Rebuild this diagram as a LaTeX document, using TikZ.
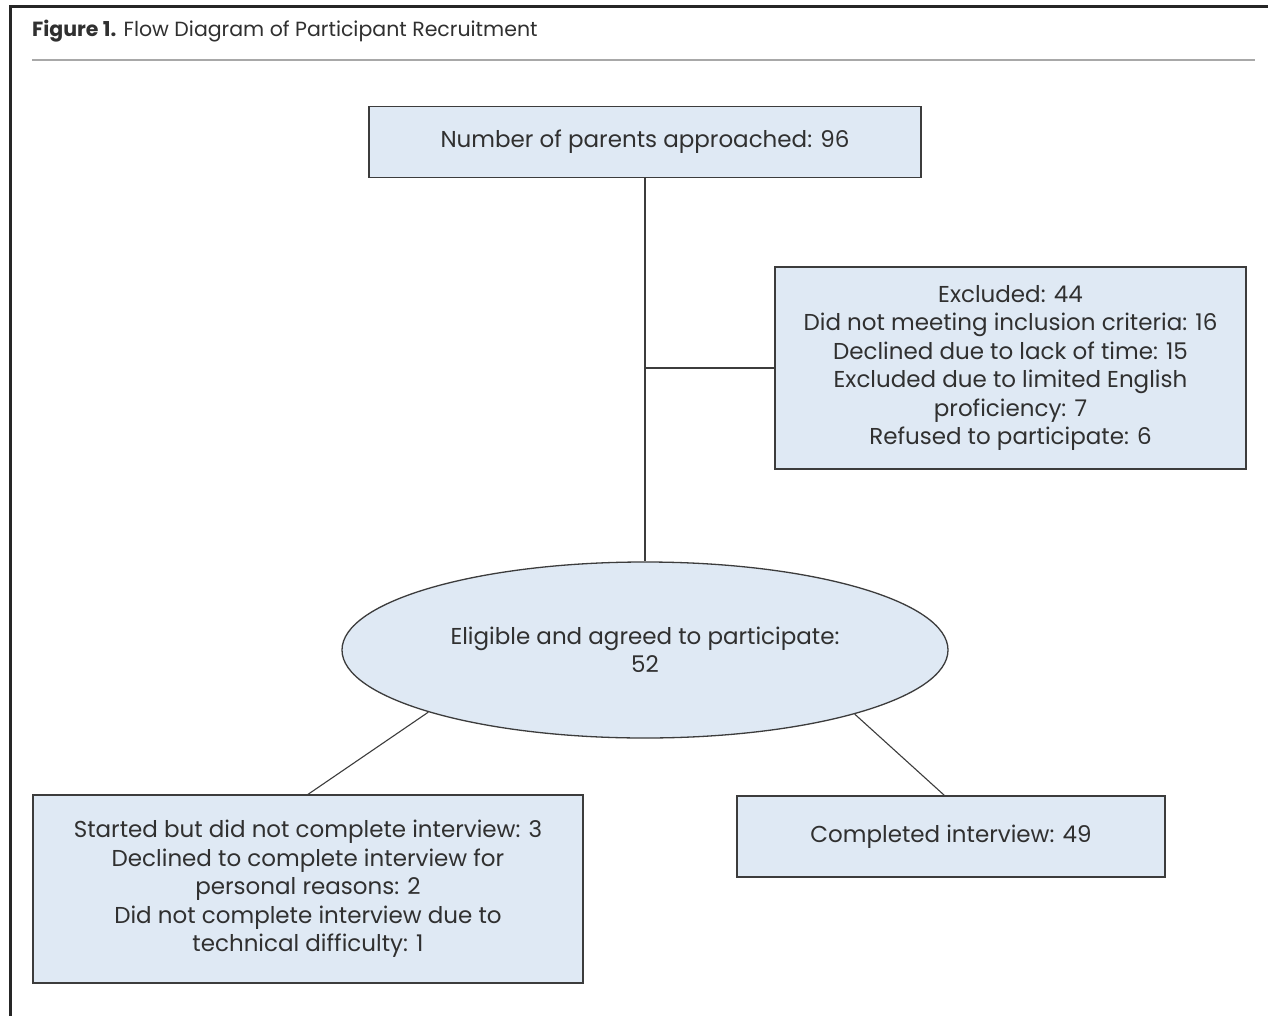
\documentclass[tikz,border=0pt]{standalone}
\usepackage{fontspec}
\setmainfont{Poppins}
\usetikzlibrary{shapes.geometric,calc}
\definecolor{boxfill}{HTML}{DFE9F4}
\definecolor{boxdraw}{HTML}{3C3C3C}
\definecolor{txt}{HTML}{303030}
\definecolor{rulegray}{HTML}{A8A8A8}
\tikzset{
  fbox/.style={draw=boxdraw, line width=1.3pt, fill=boxfill, text=txt, align=center,
    inner sep=0pt, font=\fontsize{23}{28.5}\selectfont},
  fell/.style={fbox, ellipse},
  conn/.style={draw=boxdraw, line width=1.1pt},
}
\begin{document}
\begin{tikzpicture}[x=1pt,y=-1pt]
\useasboundingbox (0,0) rectangle (1268,1016);
\fill[white] (0,0) rectangle (1268,1016);
% frame
\draw[line width=3pt, black!85] (1268,7) -- (10,7) -- (10,1016);
\node[anchor=base west, inner sep=0pt, text=txt, font=\fontsize{20.5}{24}\selectfont] (title) at (32,37)
  {\textbf{Figure 1.} Flow Diagram of Participant Recruitment};
\draw[line width=2.2pt, rulegray] (32,60) -- (1255,60);
% nodes
\node[fbox, minimum width=552pt, minimum height=71pt] (b1) at (645,142) {Number of parents approached: 96};
\node[fbox, minimum width=471pt, minimum height=202pt] (b2) at (1010.5,368)
  {Excluded: 44\\Did not meeting inclusion criteria: 16\\Declined due to lack of time: 15\\Excluded due to limited English\\proficiency: 7\\Refused to participate: 6};
\node[fell, minimum width=606pt, minimum height=176pt] (ell) at (645,650)
  {Eligible and agreed to participate:\\52};
\node[fbox, minimum width=550pt, minimum height=188pt] (b3) at (308,889)
  {Started but did not complete interview: 3\\Declined to complete interview for\\personal reasons: 2\\Did not complete interview due to\\technical difficulty: 1};
\node[fbox, minimum width=428pt, minimum height=81pt] (b4) at (951,836.5) {Completed interview: 49};
% connectors
\coordinate (br) at (ell.north |- b2.west);
\coordinate (b4in) at ($(b4.north west)+(208,0)$);
\draw[conn] (ell.north |- b1.south) -- (ell.north);
\draw[conn] (br) -- (b2.west);
\draw[conn] (ell.196) -- (b3.north);
\draw[conn] (ell.343) -- (b4in);
\end{tikzpicture}
\end{document}
